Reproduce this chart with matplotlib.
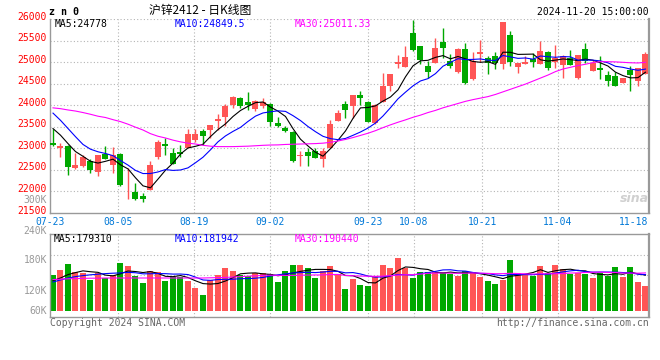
import numpy as np
import matplotlib
matplotlib.use("Agg")
import matplotlib.pyplot as plt
from matplotlib.transforms import blended_transform_factory

# daily K-line data, SHFE zinc 2412 (index 0 = 07-23 ... 79 = 11-20)
opens = [23130, 23000, 23053, 22542, 22580, 22695, 22443, 22863, 22618, 22870,
         22000, 21994, 21901, 22031, 22809, 23099, 22886, 22908, 23000, 23191,
         23397, 23420, 23634, 23725, 24015, 24176, 24069, 23916, 23977, 24031,
         23595, 23473, 23382, 22817, 22908, 22939, 22756, 23000, 23634, 24031,
         23992, 24244, 24069, 23588, 24069, 24435, 24962, 24893, 25668, 25367,
         24908, 24985, 25466, 25023, 24779, 25313, 24603, 25191, 25084, 25137,
         24962, 25640, 24893, 24962, 25061, 24947, 25237, 25000, 24924, 25084,
         24641, 25306, 24794, 24855, 24702, 24680, 24519, 24809, 24565, 24733]
highs = [23458, 23130, 23069, 22886, 22847, 22756, 22847, 23053, 23038, 22886,
         22542, 22198, 21970, 22695, 23191, 23244, 23000, 23076, 23458, 23458,
         23458, 23534, 23802, 24031, 24221, 24199, 24298, 24122, 24168, 24040,
         23725, 23512, 23400, 22939, 23015, 23000, 23015, 23649, 23893, 24107,
         24244, 24336, 24107, 24031, 24756, 24733, 25176, 25367, 25977, 25380,
         25023, 25557, 25786, 25199, 25328, 25443, 25237, 25504, 25137, 25237,
         25940, 25729, 24985, 25153, 25214, 25497, 25268, 25390, 25160, 25275,
         25176, 25443, 25046, 25137, 24794, 24779, 24640, 24908, 24870, 25237]
lows = [23060, 22794, 22382, 22519, 22557, 22428, 22351, 22763, 22428, 22122,
        21830, 21802, 21762, 22031, 22748, 22847, 22641, 22794, 23000, 23153,
        23076, 23229, 23420, 23512, 23939, 23939, 23893, 23863, 23939, 23512,
        23496, 23380, 22672, 22580, 22580, 22771, 22565, 23000, 23634, 23710,
        23710, 24015, 23611, 23573, 24069, 24336, 24870, 24893, 25260, 24947,
        24641, 24985, 25084, 24870, 24756, 24489, 24588, 25008, 24733, 24847,
        24847, 24908, 24756, 24947, 24893, 24947, 24809, 24870, 24626, 24931,
        24603, 24970, 24794, 24603, 24435, 24435, 24505, 24336, 24450, 24718]
closes = [23069, 23053, 22557, 22603, 22794, 22489, 22847, 22763, 22847, 22145,
          22015, 21817, 21825, 22618, 23153, 23053, 22641, 22870, 23328, 23344,
          23290, 23534, 23679, 23992, 24199, 23985, 24015, 24107, 24069, 23611,
          23512, 23397, 22695, 22847, 22824, 22786, 22939, 23573, 23825, 23893,
          24244, 24160, 23611, 24015, 24450, 24718, 24992, 25122, 25281, 25038,
          24779, 25328, 25328, 24908, 25306, 24512, 25023, 25229, 24985, 24985,
          25930, 25008, 24985, 25000, 25008, 25268, 24855, 25099, 25137, 24931,
          25160, 25023, 24970, 24825, 24565, 24450, 24626, 24702, 24855, 25199]

# moving averages as drawn on the chart
ma5 = [23458, 23305, 23110, 22925, 22815, 22699, 22658, 22699, 22748, 22618,
       22523, 22317, 22130, 22084, 22286, 22493, 22658, 22867, 23009, 23047,
       23095, 23273, 23435, 23568, 23739, 23878, 23974, 24060, 24075, 23957,
       23863, 23739, 23457, 23212, 23055, 22910, 22818, 22994, 23189, 23403,
       23695, 23939, 23947, 23985, 24096, 24191, 24357, 24659, 24913, 25030,
       25042, 25110, 25151, 25076, 25130, 25076, 25015, 24996, 25011, 24947,
       25230, 25227, 25179, 25182, 25186, 25054, 25023, 25046, 25073, 25058,
       25036, 25070, 25044, 24982, 24909, 24767, 24687, 24634, 24640, 24766]
ma10 = [23817, 23650, 23460, 23270, 23090, 22980, 22920, 22880, 22830, 22717,
        22611, 22488, 22415, 22416, 22452, 22508, 22488, 22498, 22547, 22666,
        22794, 22966, 23151, 23288, 23393, 23486, 23624, 23747, 23821, 23848,
        23870, 23857, 23758, 23644, 23506, 23386, 23279, 23225, 23201, 23229,
        23302, 23379, 23470, 23587, 23750, 23943, 24148, 24303, 24449, 24563,
        24617, 24733, 24905, 24994, 25080, 25059, 25063, 25073, 25044, 25038,
        25153, 25121, 25087, 25096, 25067, 25142, 25125, 25112, 25128, 25122,
        25045, 25047, 25045, 25028, 24983, 24902, 24879, 24839, 24811, 24838]
ma30 = [23939, 23920, 23890, 23865, 23830, 23790, 23745, 23715, 23665, 23620,
        23560, 23490, 23425, 23340, 23280, 23240, 23190, 23150, 23120, 23100,
        23070, 23050, 23040, 23040, 23040, 23045, 23050, 23060, 23070, 23077,
        23080, 23090, 23095, 23100, 23105, 23110, 23120, 23140, 23170, 23206,
        23250, 23300, 23350, 23410, 23480, 23545, 23605, 23660, 23720, 23770,
        23830, 23880, 23940, 23990, 24040, 24090, 24130, 24165, 24200, 24250,
        24310, 24370, 24430, 24490, 24560, 24630, 24700, 24780, 24840, 24880,
        24920, 24950, 24990, 25010, 25010, 25005, 24995, 24985, 24980, 24995]

# volume, thousand lots
volume = [178, 205, 235, 197, 188, 157, 190, 165, 178, 242,
          225, 177, 140, 202, 197, 152, 168, 168, 152, 115,
          82, 157, 182, 215, 198, 178, 173, 188, 190, 185,
          145, 200, 230, 230, 215, 165, 200, 225, 187, 110,
          160, 130, 125, 177, 230, 215, 265, 215, 165, 197,
          197, 197, 197, 185, 177, 202, 197, 170, 152, 135,
          157, 257, 190, 185, 173, 227, 190, 232, 212, 185,
          190, 185, 165, 190, 173, 220, 170, 220, 145, 125]
vma5 = [152, 165, 182, 192, 200.7, 196.3, 193.3, 179.3, 175.7, 186.3,
        200.0, 197.3, 192.3, 197.0, 188.0, 173.4, 171.7, 177.3, 167.3, 151.0,
        137.0, 134.7, 137.4, 150.0, 166.7, 186.0, 189.3, 190.6, 185.6, 182.9,
        176.3, 181.6, 190.0, 198.0, 204.0, 208.0, 208.0, 207.0, 198.3, 177.3,
        176.3, 162.3, 142.3, 140.3, 164.3, 175.3, 202.3, 220.3, 218.0, 211.3,
        207.7, 194.0, 190.4, 194.4, 190.4, 191.4, 191.4, 186.0, 179.4, 171.0,
        162.0, 174.0, 178.0, 184.7, 192.3, 206.3, 193.0, 201.3, 206.7, 209.0,
        201.7, 200.7, 187.3, 183.0, 180.7, 186.7, 183.7, 194.7, 185.7, 179.3]
vma10 = [145, 155, 165, 172, 177, 181, 184, 187, 189, 190.5,
         193.2, 191.3, 185.8, 186.3, 187.2, 186.7, 184.5, 184.8, 182.2, 169.5,
         155.2, 153.2, 157.4, 158.7, 158.8, 161.5, 162.0, 164.0, 167.8, 174.8,
         181.1, 185.5, 190.3, 191.8, 193.5, 192.1, 194.8, 198.5, 198.2, 190.7,
         192.2, 185.2, 174.7, 169.3, 170.8, 175.8, 182.3, 181.3, 179.2, 187.8,
         191.5, 198.2, 205.4, 206.2, 200.9, 199.5, 192.7, 188.2, 186.9, 180.7,
         176.7, 182.7, 182.0, 182.0, 181.7, 184.2, 183.5, 189.7, 195.7, 200.7,
         204.0, 196.8, 194.3, 194.8, 194.8, 194.2, 192.2, 191.0, 184.3, 181.9]
vma30 = [157, 159, 161, 162, 163, 164, 164, 165, 165, 165,
         165, 165, 165, 165, 165, 165, 165, 165, 165, 165,
         165, 166, 167, 168, 170, 172, 174, 176, 178, 179.3,
         178.2, 178.0, 177.8, 178.9, 179.8, 180.1, 180.4, 182.4, 182.7, 178.3,
         176.2, 174.6, 174.1, 173.3, 174.4, 176.5, 179.7, 181.3, 181.7, 184.4,
         188.3, 189.6, 190.1, 189.1, 188.4, 189.2, 189.9, 189.3, 188.1, 186.4,
         186.8, 188.7, 187.3, 185.8, 184.5, 186.5, 186.2, 186.4, 187.2, 189.7,
         190.7, 192.6, 193.9, 194.3, 192.5, 192.6, 189.5, 189.6, 189.0, 190.4]

date_labels = ["07-23", "08-05", "08-19", "09-02", "09-23", "10-08", "10-21", "11-04", "11-18"]
date_idx = [0, 9, 19, 29, 42, 48, 57, 67, 77]
price_ticks = [21500, 22000, 22500, 23000, 23500, 24000, 24500, 25000, 25500, 26000]
vol_labels = ["300K", "240K", "180K", "120K", "60K"]

RED = "#ff5555"
GREEN = "#00a800"
GRID = "#b4b4b4"
MONO = "DejaVu Sans Mono"

W, H = 660, 360
def fx(px):
    return px / W
def fy(py):
    return 1 - py / H

fig = plt.figure(figsize=(6.6, 3.6), dpi=100)
fig.patch.set_facecolor("white")

ax = fig.add_axes([fx(50), fy(213), 599 / W, 194 / H])
axv = fig.add_axes([fx(50), fy(317.3), 599 / W, 83.3 / H])

x = np.arange(len(closes))
o = np.array(opens); c = np.array(closes)
colors = np.where(c >= o, RED, GREEN)

# the date grid of the original runs on a slightly wider step than the candles
grid_pos = [i * 1.0115 - 0.44 for i in date_idx]

for a in (ax, axv):
    a.set_xlim(-0.4, 79.47)
    a.set_xticks([]); a.set_yticks([])
    for gx in grid_pos[1:-1]:
        a.axvline(gx, color=GRID, lw=0.8, ls=(0, (1, 2)), zorder=0)
    for s in a.spines.values():
        s.set_color("#999999"); s.set_linewidth(1.0)
    a.spines["right"].set_linewidth(1.6)

# price panel
ax.set_ylim(21500, 26000)
ax.spines["top"].set_visible(False)
for p in price_ticks[1:]:
    ax.axhline(p, color=GRID, lw=0.8, ls=(0, (1, 2)), zorder=0)
ax.vlines(x, lows, highs, colors=colors, lw=1.0, zorder=2)
ax.bar(x, np.maximum(np.abs(c - o), 18), bottom=np.minimum(o, c), width=0.8,
       color=colors, linewidth=0, zorder=3)
ax.plot(x, ma5, color="black", lw=0.8, zorder=4)
ax.plot(x, ma10, color="#0000ff", lw=0.8, zorder=4)
ax.plot(x, ma30, color="#ff00ff", lw=0.8, zorder=4)

for p in price_ticks:
    ax.annotate(str(p), xy=(0, p), xycoords=("axes fraction", "data"),
                xytext=(-3, 2.5), textcoords="offset pixels", ha="right", va="center",
                color="#ff0000", fontsize=7, family=MONO)

tr = blended_transform_factory(ax.transData, ax.transAxes)
for gx, lab in zip(grid_pos, date_labels):
    ax.text(gx, -0.045, lab, transform=tr, ha="center", va="center",
            color="#0078d7", fontsize=7, family=MONO)

# volume panel
axv.set_ylim(-31.5, 385)
for v in [81.5, 181.5, 281.5]:
    axv.axhline(v, color=GRID, lw=0.8, ls=(0, (1, 2)), zorder=0)
axv.bar(x, volume, width=0.8, color=colors, linewidth=0, zorder=2)
axv.plot(x, vma5, color="black", lw=0.8, zorder=4)
axv.plot(x, vma10, color="#0000ff", lw=0.8, zorder=4)
axv.plot(x, vma30, color="#ff00ff", lw=0.8, zorder=4)

for lab, py in zip(vol_labels, [200, 231, 260, 290.5, 311]):
    fig.text(fx(47), fy(py), lab, ha="right", va="center", color="#999999",
             fontsize=7, family=MONO)

# header texts
fig.text(fx(49), fy(12), "z n 0", ha="left", va="center", fontsize=7.2,
         fontweight="bold", family=MONO)
fig.text(fx(200), fy(10.5), "沪锌2412 - 日K线图", ha="center", va="center", fontsize=8.5,
         family=["Noto Sans CJK SC", "DejaVu Sans"])
fig.text(fx(649), fy(12), "2024-11-20 15:00:00", ha="right", va="center",
         fontsize=7, family=MONO)

for txt, px, col, py in [("MA5:24778", 55, "black", 24), ("MA10:24849.5", 175, "#0000ff", 24),
                         ("MA30:25011.33", 295, "#ff00ff", 24),
                         ("MA5:179310", 54, "black", 239), ("MA10:181942", 175, "#0000ff", 239),
                         ("MA30:190440", 295, "#ff00ff", 239)]:
    fig.text(fx(px), fy(py), txt, ha="left", va="center", color=col, fontsize=7, family=MONO)

# footer + watermark
fig.text(fx(50), fy(323), "Copyright 2024 SINA.COM", ha="left", va="center",
         color="#666666", fontsize=7, family=MONO)
fig.text(fx(649), fy(323), "http://finance.sina.com.cn", ha="right", va="center",
         color="#666666", fontsize=7, family=MONO)
fig.text(fx(634), fy(199), "sina", ha="center", va="center", color="#d0d0d0",
         fontsize=9, fontweight="bold", style="italic", family="DejaVu Sans")

fig.savefig("out.png", dpi=100)
